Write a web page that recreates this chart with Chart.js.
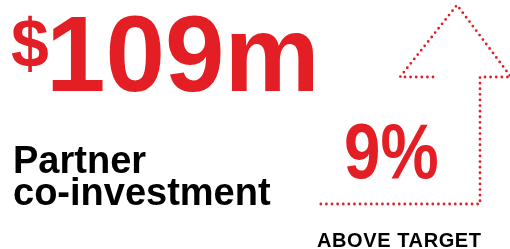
<!DOCTYPE html>
<html>
<head>
<meta charset="utf-8">
<script src="https://cdn.jsdelivr.net/npm/chart.js@4/dist/chart.umd.min.js"></script>
<style>
    html, body { margin: 0; padding: 0; background: #fff; }
    #wrap { position: relative; width: 510px; height: 249px; overflow: hidden; }
    #arrow { position: absolute; left: 0; top: 0; }
    .t { position: absolute; white-space: nowrap; font-family: "Liberation Sans", Arial, sans-serif; font-weight: bold; line-height: 1; }
    .red { color: #e31e24; }
</style>
</head>
<body>
<div id="wrap">
    <canvas id="arrow" width="510" height="249"></canvas>
    <div class="t red" style="left:11px; top:9px; font-size:68px;">$</div>
    <div class="t red" style="left:46px; top:1px; font-size:107px;">109m</div>
    <div class="t" style="left:13px; top:141px; font-size:38px;">Partner</div>
    <div class="t" style="left:13px; top:173px; font-size:38px;">co-investment</div>
    <div class="t red" style="left:344px; top:113px; font-size:77px; transform:scaleX(0.85); transform-origin:left top;">9%</div>
    <div class="t" style="left:317px; top:230px; font-size:20px; letter-spacing:0.6px;">ABOVE TARGET</div>
</div>
<script>
document.addEventListener('DOMContentLoaded', function() {
    // Outline of the dotted arrow (pixels)
    const arrowX = [433, 400, 457, 511, 480, 480, 317];
    const arrowY = [77, 77, 5, 77, 77, 204, 204];

    const red = '#e31e24';
    const points = arrowX.map((x, i) => ({ x: x, y: arrowY[i] }));

    new Chart(document.getElementById('arrow'), {
        type: 'scatter',
        data: {
            datasets: [{
                data: points,
                showLine: true,
                borderColor: red,
                borderWidth: 2.8,
                borderDash: [0, 5.6],
                borderCapStyle: 'round',
                pointRadius: 0,
                clip: false,
                tension: 0
            }]
        },
        options: {
            responsive: false,
            animation: false,
            layout: { padding: 0 },
            plugins: { legend: { display: false }, tooltip: { enabled: false } },
            scales: {
                x: { type: 'linear', min: 0, max: 510, display: false },
                y: { type: 'linear', min: 0, max: 249, reverse: true, display: false }
            }
        }
    });
});
</script>
</body>
</html>
